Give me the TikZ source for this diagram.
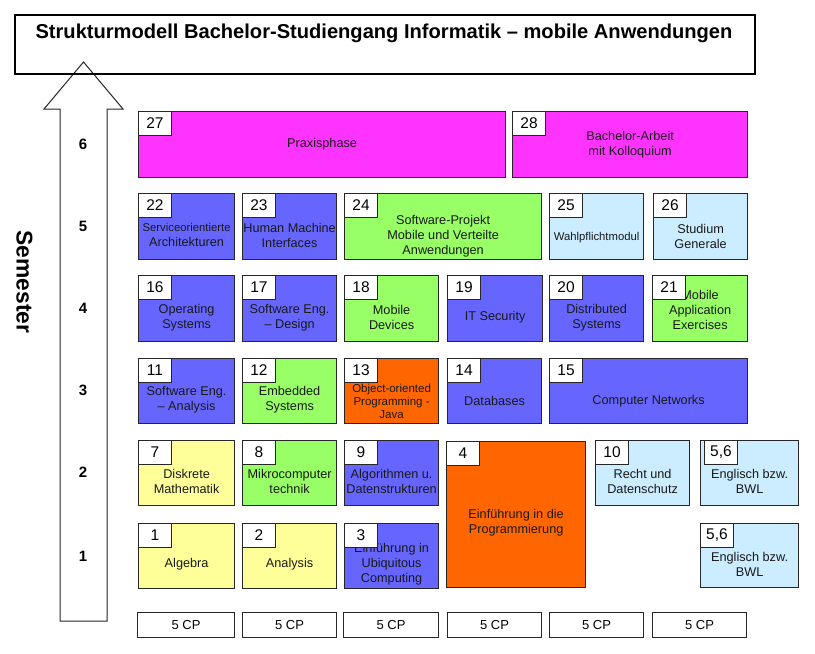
\documentclass[tikz,border=0pt]{standalone}
\usepackage{fontspec}
\setmainfont{Liberation Sans}
\usetikzlibrary{calc}
\definecolor{cmag}{RGB}{255,51,255}
\definecolor{cblue}{RGB}{102,102,255}
\definecolor{cgreen}{RGB}{153,255,102}
\definecolor{corange}{RGB}{255,102,0}
\definecolor{cyellow}{RGB}{255,255,153}
\definecolor{clblue}{RGB}{204,236,255}
\newcommand\mymod[9]{%
  \node[modbox, fill=#6, minimum width={#4-#2}, minimum height={#5-#3}] (#1) at (#2,#3) {};
  \node[modtext, #9] (#1t) at (#1.center) {#8};
  \node[numbox] (#1n) at (#1.north west) {#7};
}
\begin{document}
\begin{tikzpicture}[x=1pt,y=-1pt,
  modbox/.style={draw=black!85, line width=1.2pt, anchor=north west, inner sep=0pt, rectangle},
  numbox/.style={draw=black!85, fill=white, line width=1pt, anchor=north west, minimum width=33pt, minimum height=24pt, inner sep=0pt, font=\fontsize{15.5}{17}\selectfont},
  modtext/.style={align=center, inner sep=0pt, font=\fontsize{12.7}{15}\selectfont, text=black!90},
  cpbox/.style={draw=black!85, line width=1pt, anchor=north west, minimum height=25pt, inner sep=0pt, font=\fontsize{13}{15}\selectfont},
  semnum/.style={font=\bfseries\fontsize{15}{17}\selectfont, inner sep=0pt}
]
\useasboundingbox (0,0) rectangle (815,654);
% arrow
\coordinate (aBL) at (60,621);
\coordinate (aBR) at (107,621);
\draw[line width=1pt, draw=black!85, fill=white] (aBL) -- (60,109) -- (44,109) -- (83.5,62) -- (123,109) -- (107,109) -- (aBR) -- cycle;
% title
\node[draw=black, line width=2pt, anchor=north west, minimum width=740pt, minimum height=59pt, inner sep=0pt] (title) at (14,14) {};
\node[anchor=base, inner sep=0pt, font=\bfseries\fontsize{20.1}{22}\selectfont] (titletext) at (384,38) {Strukturmodell Bachelor-Studiengang Informatik – mobile Anwendungen};
% semester label
\node[rotate=-90, inner sep=0pt, font=\bfseries\fontsize{22.8}{25}\selectfont] (semester) at (24.5,282) {Semester};
\node[semnum] (s6) at (83,144) {6};
\node[semnum] (s5) at (83,226) {5};
\node[semnum] (s4) at (83,308) {4};
\node[semnum] (s3) at (83,390) {3};
\node[semnum] (s2) at (83,472) {2};
\node[semnum] (s1) at (83,556) {1};
% semester 6
\mymod{m27}{138}{111}{505}{177}{cmag}{27}{Praxisphase}{yshift=0pt}
\mymod{m28}{512}{111}{747}{177}{cmag}{28}{Bachelor-Arbeit\\mit Kolloquium}{yshift=0pt}
% semester 5
\mymod{m22}{138}{193}{234}{259}{cblue}{22}{{\fontsize{11.3}{15}\selectfont Serviceorientierte}\\Architekturen}{yshift=-8.5pt}
\mymod{m23}{242}{193}{336}{259}{cblue}{23}{Human Machine\\Interfaces}{yshift=-9pt}
\mymod{m24}{344}{193}{541}{259}{cgreen}{24}{Software-Projekt\\Mobile und Verteilte\\Anwendungen}{yshift=-10pt}
\mymod{m25}{549}{193}{643}{259}{clblue}{25}{Wahlpflichtmodul}{yshift=-11pt, font=\fontsize{11.3}{14}\selectfont}
\mymod{m26}{653}{193}{747}{259}{clblue}{26}{Studium\\Generale}{yshift=-9.5pt}
% semester 4
\mymod{m16}{138}{275}{234}{341}{cblue}{16}{Operating\\Systems}{yshift=-9pt}
\mymod{m17}{242}{275}{336}{341}{cblue}{17}{Software Eng.\\– Design}{yshift=-9pt}
\mymod{m18}{344}{275}{438}{341}{cgreen}{18}{Mobile\\Devices}{yshift=-9pt}
\mymod{m19}{447}{275}{542}{341}{cblue}{19}{IT Security}{yshift=-9pt}
\mymod{m20}{549}{275}{643}{341}{cblue}{20}{Distributed\\Systems}{yshift=-9pt}
\mymod{m21}{652}{275}{747}{341}{cgreen}{21}{Mobile\\Application\\Exercises}{yshift=-1pt}
% semester 3
\mymod{m11}{138}{358}{234}{423}{cblue}{11}{Software Eng.\\– Analysis}{yshift=-9pt}
\mymod{m12}{242}{358}{336}{423}{cgreen}{12}{Embedded\\Systems}{yshift=-9pt}
\mymod{m13}{344}{358}{438}{423}{corange}{13}{Object-oriented\\Programming -\\Java}{yshift=-10pt, font=\fontsize{11.5}{13}\selectfont}
\mymod{m14}{447}{358}{541}{423}{cblue}{14}{Databases}{yshift=-10pt}
\mymod{m15}{549}{358}{747}{423}{cblue}{15}{Computer Networks}{yshift=-10pt}
% semester 2
\mymod{m7}{138}{440}{234}{505}{cyellow}{7}{Diskrete\\Mathematik}{yshift=-8.5pt}
\mymod{m8}{242}{440}{336}{505}{cgreen}{8}{Mikrocomputer\\technik}{yshift=-8.5pt}
\mymod{m9}{344}{440}{438}{505}{cblue}{9}{Algorithmen u.\\Datenstrukturen}{yshift=-8.5pt}
\mymod{m4}{446}{441}{585}{587}{corange}{4}{Einführung in die\\Programmierung}{yshift=-8.5pt}
\mymod{m10}{595}{440}{689}{505}{clblue}{10}{Recht und\\Datenschutz}{yshift=-8.5pt}
\node[modbox, fill=clblue, minimum width=98pt, minimum height=65pt] (m56a) at (700,440) {};
\node[modtext, yshift=-8.5pt] (m56at) at (m56a.center) {Englisch bzw.\\BWL};
\node[numbox, xshift=4pt] (m56an) at (m56a.north west) {5,6};
% semester 1
\mymod{m1}{138}{523}{234}{588}{cyellow}{1}{Algebra}{yshift=-8pt}
\mymod{m2}{242}{523}{336}{588}{cyellow}{2}{Analysis}{yshift=-8pt}
\mymod{m3}{344}{523}{438}{588}{cblue}{3}{Einführung in\\Ubiquitous\\Computing}{yshift=-8pt}
\mymod{m56b}{700}{523}{798}{587}{clblue}{5,6}{Englisch bzw.\\BWL}{yshift=-9pt}
% credit points
\node[cpbox, minimum width=97pt] (cp1) at (137,612) {5 CP};
\node[cpbox, minimum width=94pt] (cp2) at (242,612) {5 CP};
\node[cpbox, minimum width=95pt] (cp3) at (343,612) {5 CP};
\node[cpbox, minimum width=94pt] (cp4) at (447,612) {5 CP};
\node[cpbox, minimum width=94pt] (cp5) at (549,612) {5 CP};
\node[cpbox, minimum width=94pt] (cp6) at (652,612) {5 CP};
\end{tikzpicture}
\end{document}
